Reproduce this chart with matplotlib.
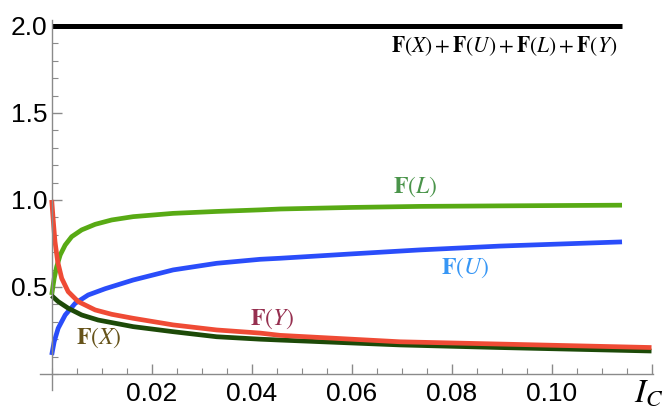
import numpy as np
import matplotlib.pyplot as plt
from matplotlib.ticker import MultipleLocator, FixedLocator

plt.rcParams['mathtext.fontset'] = 'stix'
plt.rcParams['font.family'] = 'Liberation Sans'

# values
total_x = [0.0, 0.1141]
total_y = [2.0, 2.0]

xl = [0.0, 0.0005, 0.001, 0.0017, 0.0027, 0.004, 0.006, 0.0087, 0.012, 0.0163,
      0.0243, 0.033, 0.0417, 0.0457, 0.06, 0.0737, 0.0897, 0.1141]
f_L = [0.454, 0.55, 0.617, 0.684, 0.741, 0.789, 0.828, 0.86, 0.885, 0.904,
       0.923, 0.934, 0.943, 0.948, 0.957, 0.963, 0.966, 0.97]

xu = [0.0, 0.0005, 0.0013, 0.0027, 0.0047, 0.0073, 0.0107, 0.0163, 0.0243, 0.033,
      0.0417, 0.0457, 0.06, 0.0737, 0.0897, 0.1141]
f_U = [0.109, 0.186, 0.263, 0.339, 0.406, 0.454, 0.49, 0.54, 0.598, 0.636,
       0.659, 0.665, 0.69, 0.713, 0.735, 0.759]

xy = [0.0, 0.00033, 0.00066, 0.0012, 0.002, 0.0033, 0.0053, 0.0087, 0.012, 0.0163,
      0.0243, 0.033, 0.0417, 0.0457, 0.0697, 0.0897, 0.12]
f_Y = [1.0, 0.875, 0.76, 0.645, 0.55, 0.473, 0.416, 0.368, 0.343, 0.32,
       0.282, 0.253, 0.235, 0.222, 0.185, 0.172, 0.152]

xx = [0.0, 0.0013, 0.0033, 0.006, 0.0093, 0.0163, 0.0243, 0.033, 0.0417, 0.0457,
      0.0697, 0.0897, 0.12]
f_X = [0.45, 0.416, 0.378, 0.339, 0.31, 0.272, 0.243, 0.214, 0.20, 0.195,
       0.167, 0.152, 0.132]

fig = plt.figure(figsize=(6.68, 4.12), dpi=100)
ax = fig.add_axes([40 / 668, 22 / 412, 613 / 668, 370 / 412])

ax.plot(total_x, total_y, color='black', lw=3.6, solid_capstyle='butt')
ax.plot(xl, f_L, color='#58aa14', lw=3.4, solid_capstyle='butt')
ax.plot(xu, f_U, color='#2a4dfa', lw=3.4, solid_capstyle='butt')
ax.plot(xx, f_X, color='#1d4a08', lw=3.4, solid_capstyle='butt')
ax.plot(xy, f_Y, color='#ef4b35', lw=3.4, solid_capstyle='butt')

ax.set_xlim(-0.00234, 0.1203)
ax.set_ylim(-0.092, 2.034)

for s in ['top', 'right']:
    ax.spines[s].set_visible(False)
ax.spines['left'].set_position(('data', 0))
ax.spines['bottom'].set_position(('data', 0))
for s in ['left', 'bottom']:
    ax.spines[s].set_color('#8a8a8a')
    ax.spines[s].set_linewidth(1.0)

ax.xaxis.set_major_locator(FixedLocator([0.02, 0.04, 0.06, 0.08, 0.10, 0.12]))
ax.set_xticklabels(['0.02', '0.04', '0.06', '0.08', '0.10', ''])
ax.xaxis.set_minor_locator(MultipleLocator(0.005))
ax.yaxis.set_major_locator(FixedLocator([0.5, 1.0, 1.5, 2.0]))
ax.set_yticklabels(['0.5', '1.0', '1.5', '2.0'])
ax.yaxis.set_minor_locator(MultipleLocator(0.1))
ax.tick_params(which='both', direction='in', color='#8a8a8a', labelsize=19)
ax.tick_params(which='major', length=7, width=1)
ax.tick_params(which='minor', length=4, width=0.8)
ax.tick_params(axis='x', pad=6)
ax.tick_params(axis='y', pad=3)

ax.text(0.0727, 1.075, r'$\mathbf{F}(L)$', color='#4a944a', fontsize=17, ha='center', va='center')
ax.text(0.0827, 0.61, r'$\mathbf{F}(U)$', color='#3696f5', fontsize=17, ha='center', va='center')
ax.text(0.0441, 0.32, r'$\mathbf{F}(Y)$', color='#963050', fontsize=17, ha='center', va='center')
ax.text(0.0094, 0.21, r'$\mathbf{F}(X)$', color='#66531a', fontsize=17, ha='center', va='center')
ax.text(0.1131, 1.885, r'$\mathbf{F}(X)+\mathbf{F}(U)+\mathbf{F}(L)+\mathbf{F}(Y)$',
        color='black', fontsize=15.5, ha='right', va='center')

fig.text(649 / 668, 1 - 393 / 412, r'$I_C$', fontsize=24, ha='center', va='center')

fig.savefig('out.png', dpi=100)
